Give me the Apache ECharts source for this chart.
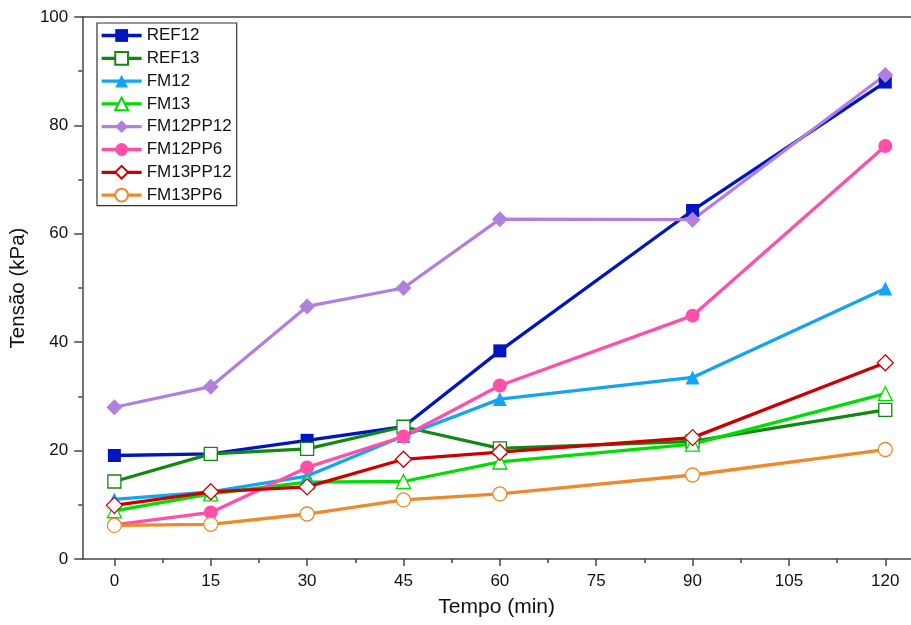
<!DOCTYPE html>
<html><head><meta charset="utf-8">
<script src="https://cdn.jsdelivr.net/npm/echarts@6/dist/echarts.min.js"></script>
<style>html,body{margin:0;padding:0;background:#fff}#c{width:911px;height:625px}</style>
</head><body><div id="c"></div>
<script>
const times = [0, 15, 30, 45, 60, 90, 120];
const xTickLabels = [0, 15, 30, 45, 60, 75, 90, 105, 120];
const xMinorTicks = [7.5, 22.5, 37.5, 52.5, 67.5, 82.5, 97.5, 112.5];
const REF12 = [19.1, 19.4, 21.9, 24.4, 38.4, 64.3, 88.0];
const REF13 = [14.3, 19.4, 20.3, 24.4, 20.4, 21.7, 27.5];
const FM12 = [11.0, 12.4, 15.3, 22.7, 29.5, 33.5, 49.9];
const FM13 = [8.9, 12.0, 14.2, 14.3, 17.9, 21.2, 30.5];
const FM12PP12 = [28.0, 31.8, 46.6, 50.0, 62.7, 62.6, 89.3];
const FM12PP6 = [6.3, 8.6, 16.9, 22.6, 32.0, 44.9, 76.2];
const FM13PP12 = [9.9, 12.4, 13.3, 18.4, 19.7, 22.4, 36.2];
const FM13PP6 = [6.2, 6.4, 8.3, 10.9, 12.0, 15.5, 20.2];

const seriesDefs = [
  {name:'REF12', data:REF12, color:'#0016c0', symbol:'rect', size:13, hollow:false},
  {name:'REF13', data:REF13, color:'#0f8a0f', symbol:'rect', size:13, hollow:true},
  {name:'FM12', data:FM12, color:'#12a5f4', symbol:'triangle', size:14, hollow:false},
  {name:'FM13', data:FM13, color:'#00dd00', symbol:'triangle', size:14, hollow:true},
  {name:'FM12PP12', data:FM12PP12, color:'#b07fdf', symbol:'diamond', size:16, hollow:false},
  {name:'FM12PP6', data:FM12PP6, color:'#ff4fa8', symbol:'circle', size:14, hollow:false},
  {name:'FM13PP12', data:FM13PP12, color:'#cc0000', symbol:'diamond', size:16, hollow:true},
  {name:'FM13PP6', data:FM13PP6, color:'#f0882c', symbol:'circle', size:14, hollow:true}
];

const axisColor = '#444';
const font = 'Liberation Sans, Arial, sans-serif';

const chart = echarts.init(document.getElementById('c'), null, {renderer:'canvas'});
chart.setOption({
  animation:false,
  backgroundColor:'#fff',
  grid:{left:81, top:17, bottom:66, right:0},
  legend:{
    left:97, top:23, orient:'vertical', itemWidth:40, itemHeight:16, itemGap:5.8,
    padding:[4,5,2,3], borderColor:'#333', borderWidth:1.2,
    lineStyle:{width:3.3},
    textStyle:{fontFamily:font, fontSize:17, color:'#111'},
    data: seriesDefs.map(s=>s.name)
  },
  xAxis:[{
    type:'value', min:-5, max:124,
    name:'Tempo (min)', nameLocation:'middle', nameGap:38,
    nameTextStyle:{fontFamily:font, fontSize:21, color:'#111'},
    axisLine:{onZero:false, lineStyle:{color:axisColor, width:1.5}},
    axisTick:{show:true, length:7, inside:false, customValues:xTickLabels, lineStyle:{color:axisColor, width:1.5}},
    axisLabel:{customValues:xTickLabels, fontFamily:font, fontSize:17, color:'#111', margin:14},
    splitLine:{show:false}
  },{
    type:'value', min:-5, max:124, position:'bottom',
    axisLine:{show:false, onZero:false},
    axisTick:{show:true, length:4, customValues:xMinorTicks, lineStyle:{color:axisColor, width:1.5}},
    axisLabel:{show:false}, splitLine:{show:false}
  },{
    type:'value', min:-5, max:124, position:'top',
    axisLine:{show:true, onZero:false, lineStyle:{color:axisColor, width:1.5}},
    axisTick:{show:false}, axisLabel:{show:false}, splitLine:{show:false}
  }],
  yAxis:{
    type:'value', min:0, max:100, interval:20,
    name:'Tensão (kPa)', nameLocation:'middle', nameGap:46,
    nameTextStyle:{fontFamily:font, fontSize:20.5, color:'#111'},
    axisLine:{show:true, onZero:false, lineStyle:{color:axisColor, width:1.5}},
    axisTick:{show:true, length:8, lineStyle:{color:axisColor, width:1.5}},
    minorTick:{show:true, splitNumber:2, length:4, lineStyle:{color:axisColor, width:1.5}},
    axisLabel:{fontFamily:font, fontSize:17, color:'#111', margin:14},
    splitLine:{show:false}
  },
  series: seriesDefs.map(s=>({
    name:s.name, type:'line', xAxisIndex:0,
    data: times.map((t,i)=>[t, s.data[i]]),
    symbol:s.symbol, symbolSize:s.size,
    lineStyle:{color:s.color, width:3.3},
    itemStyle: s.hollow ? {color:'#fff', borderColor:s.color, borderWidth:1.3} : {color:s.color},
    emphasis:{disabled:true}
  }))
});
</script></body></html>
